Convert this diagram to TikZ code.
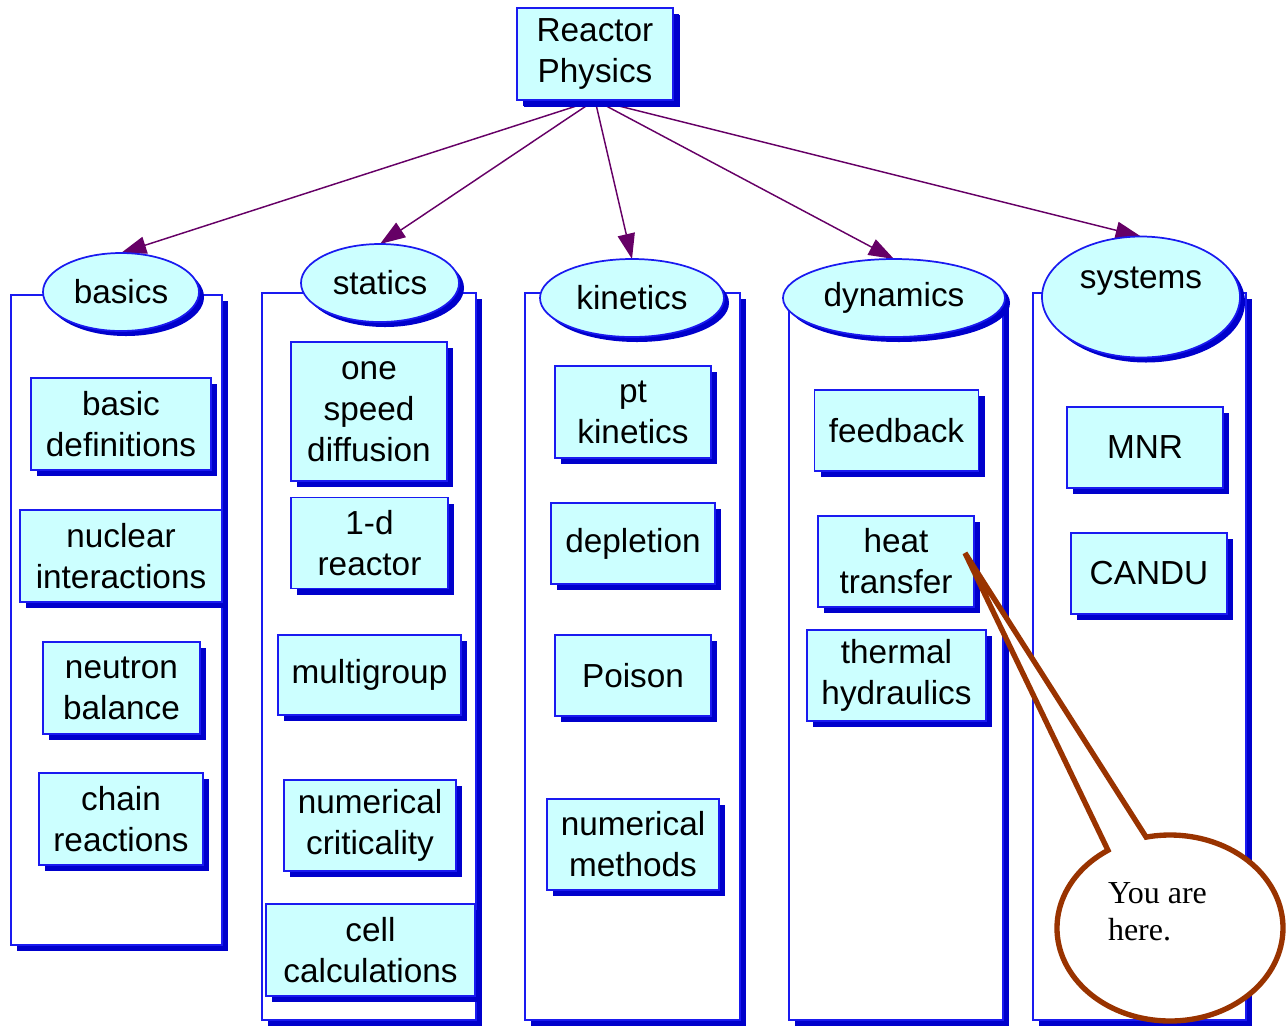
\documentclass[tikz,border=0pt]{standalone}
\usepackage{fontspec}
\setmainfont{Liberation Sans}
\newfontfamily\calloutfont{Liberation Serif}
\usetikzlibrary{shadows,arrows.meta,shapes.geometric}
\definecolor{leafcyan}{HTML}{CCFFFF}
\definecolor{edgeblue}{HTML}{1A1AF0}
\definecolor{shadeblue}{HTML}{0000CC}
\definecolor{arrowpurple}{HTML}{660066}
\definecolor{calloutbrown}{HTML}{993300}
\pgfdeclarelayer{background}
\pgfsetlayers{background,main}
\begin{document}
\begin{tikzpicture}[x=0.75pt,y=-0.75pt,
  every node/.style={font=\fontsize{25}{30.75}\selectfont, align=center, inner sep=0pt, outer sep=0pt},
  sz/.style 2 args={minimum width=#1*0.75pt, minimum height=#2*0.75pt},
  leaf/.style={rectangle, draw=edgeblue, line width=1.1pt, fill=leafcyan,
    general shadow={fill=shadeblue, shadow xshift=4.5pt, shadow yshift=-4.5pt}},
  topic/.style={ellipse, draw=edgeblue, line width=1.3pt, fill=leafcyan,
    general shadow={fill=shadeblue, shadow xshift=3.75pt, shadow yshift=-3.75pt}},
  panel/.style={rectangle, draw=edgeblue, line width=1.1pt, fill=white,
    general shadow={fill=shadeblue, shadow xshift=4.5pt, shadow yshift=-4.5pt}},
  link/.style={draw=arrowpurple, line width=1.1pt, -{Triangle[length=19pt,width=13pt]}},
  calloutline/.style={draw=calloutbrown, line width=4pt, fill=white, line join=miter}]
\useasboundingbox (0,0) rectangle (1286,1026);

% panels
\node[panel, sz={211}{650}] (p1) at (116.5,620) {};
\node[panel, sz={214}{727}] (p2) at (369,656.5) {};
\node[panel, sz={215}{727}] (p3) at (632.5,656.5) {};
\node[panel, sz={214}{727}] (p4) at (896,656.5) {};
\node[panel, sz={213}{727}] (p5) at (1139.5,656.5) {};

% root
\node[leaf, sz={156}{92}, general shadow={fill=shadeblue, shadow xshift=5.25pt, shadow yshift=-5.25pt}] (root) at (595,54) {Reactor\\Physics};

% topics
\node[topic, sz={156}{78}] (basics) at (121,292) {basics};
\node[topic, sz={158}{78}] (statics) at (380,283) {statics};
\node[topic, sz={184}{78}] (kinetics) at (632,298) {kinetics};
\node[topic, sz={222}{78}] (dynamics) at (894,298) {dynamics};
\node[topic, sz={198}{121}] (systems) at (1141,297) {};
\node (systxt) at (1141,281) {systems};

% arrows
\begin{pgfonlayer}{background}
\draw[link] (root.south) -- (basics.north);
\draw[link] (root.south) -- (statics.north);
\draw[link] (root.south) -- (kinetics.north);
\draw[link] (root.south) -- (dynamics.north);
\draw[link] (root.south) -- (systems.north);
\end{pgfonlayer}

% column 1
\node[leaf, sz={180}{92}] (bd) at (121,424) {basic\\definitions};
\node[leaf, sz={202}{92}] (ni) at (121,556) {nuclear\\interactions};
\node[leaf, sz={157}{92}] (nb) at (121.5,688) {neutron\\balance};
\node[leaf, sz={164}{92}] (cr) at (121,819) {chain\\reactions};

% column 2
\node[leaf, sz={156}{139}] (osd) at (369,411.5) {one\\speed\\diffusion};
\node[leaf, sz={157}{91}] (od) at (369.5,543) {1-d\\reactor};
\node[leaf, sz={183}{80}] (mg) at (369.5,675) {multigroup};
\node[leaf, sz={172}{91}] (nc) at (370,825.5) {numerical\\criticality};
\node[leaf, sz={209}{92}] (cc) at (370.5,950) {cell\\calculations};

% column 3
\node[leaf, sz={156}{92}] (ptk) at (633,412) {pt\\kinetics};
\node[leaf, sz={164}{81}] (dep) at (633,543.5) {depletion};
\node[leaf, sz={156}{81}] (poi) at (633,675.5) {Poison};
\node[leaf, sz={172}{91}] (nm) at (633,844.5) {numerical\\methods};

% column 4
\node[leaf, sz={164}{81}] (fb) at (896.5,430.5) {feedback};
\node[leaf, sz={156}{91}] (ht) at (896,561.5) {heat\\transfer};
\node[leaf, sz={179}{91}] (th) at (896.5,675.5) {thermal\\hydraulics};

% column 5
\node[leaf, sz={156}{81}] (mnr) at (1145,447.5) {MNR};
\node[leaf, sz={156}{81}] (candu) at (1149,573.5) {CANDU};

% callout
\coordinate (tip) at (965,553);
\coordinate (cc0) at (1170,928);
\draw[calloutline] (tip) -- ([shift={(123.3:84.75pt and 69.75pt)}]cc0)
  arc[start angle=123.3, end angle=462.2, x radius=84.75pt, y radius=69.75pt] -- cycle;
\node[font=\calloutfont\fontsize{24}{27.75}\selectfont, align=left, anchor=base west] (here) at (1108,940) {You are\\here.};
\end{tikzpicture}
\end{document}
